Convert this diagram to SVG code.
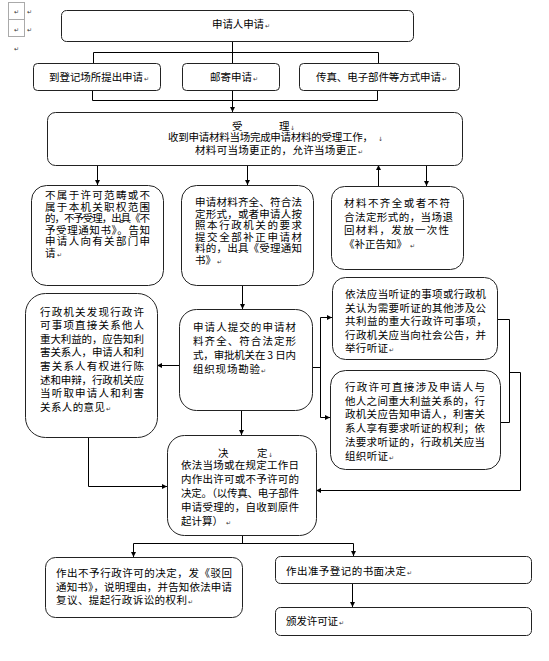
<svg xmlns="http://www.w3.org/2000/svg" width="549" height="661" viewBox="0 0 549 661">
<style>
.b{fill:#fff;stroke:#222;stroke-width:1}
.t{font-family:"Noto Sans CJK SC","Noto Sans CJK JP",sans-serif;font-size:10.5px;fill:#000}
.pm{font-family:"DejaVu Sans",sans-serif;font-size:6px;fill:#333}
.c{fill:none;stroke:#000;stroke-width:1}
.g{fill:none;stroke:#aaa;stroke-width:1}
</style>
<defs>
<marker id="a" viewBox="0 0 6 6" refX="6" refY="3" markerWidth="6" markerHeight="5" orient="auto" markerUnits="userSpaceOnUse"><path d="M0,0 L6,3 L0,6z" fill="#000"/></marker>
</defs>
<rect width="549" height="661" fill="#fff"/>
<g id="corner">
<rect class="g" x="8.5" y="2.5" width="16" height="17"/>
<rect class="g" x="8.5" y="19.5" width="16" height="17"/>
<text class="pm" x="14" y="14">↵</text><text class="pm" x="27" y="14">↵</text>
<text class="pm" x="14" y="32">↵</text><text class="pm" x="27" y="32">↵</text>
<text class="pm" x="14" y="51">↵</text>
</g>
<g id="connectors" class="c">
<path d="M232.5,41 V52.5 M93.5,52.5 H378.5 M93.5,52.5 V63 M232.5,52.5 V63 M378.5,52.5 V63"/>
<path d="M92.5,90 V100.5 M232.5,90 V100.5 M377.5,90 V100.5 M92.5,100.5 H377.5"/>
<path d="M232.5,100.5 V112" marker-end="url(#a)"/>
<path d="M97.5,165 V185" marker-end="url(#a)"/>
<path d="M247.5,165 V185" marker-end="url(#a)"/>
<path d="M378.5,186 V165" marker-end="url(#a)"/>
<path d="M426.5,165 V186" marker-end="url(#a)"/>
<path d="M242.5,285 V309" marker-end="url(#a)"/>
<path d="M179,365.5 H157" marker-end="url(#a)"/>
<path d="M312,367.5 H320.5 M320.5,317.5 V417.5"/>
<path d="M320.5,317.5 H332" marker-end="url(#a)"/>
<path d="M320.5,417.5 H330" marker-end="url(#a)"/>
<path d="M497,319.5 H509.5 V422.5 H500 M509.5,372.5 H520.5 V490.5"/>
<path d="M520.5,490.5 H316" marker-end="url(#a)"/>
<path d="M88.5,437 V486.5"/>
<path d="M88.5,486.5 H167" marker-end="url(#a)"/>
<path d="M241.5,410 V435" marker-end="url(#a)"/>
<path d="M242.5,535 V543.5 M133.5,543.5 H353.5"/>
<path d="M133.5,543.5 V557" marker-end="url(#a)"/>
<path d="M353.5,543.5 V556" marker-end="url(#a)"/>
<path d="M352.5,583 V607" marker-end="url(#a)"/>
</g>
<g id="n-apply">
<rect class="b" x="61.5" y="10.5" width="352" height="31" rx="5"/>
<text class="t" x="212" y="28" textLength="52" lengthAdjust="spacing">申请人申请</text><text class="pm" x="265" y="28">↵</text>
</g>
<g id="n-onsite">
<rect class="b" x="33.5" y="63.5" width="127" height="27" rx="4"/>
<text class="t" x="49" y="81" textLength="94" lengthAdjust="spacing">到登记场所提出申请</text><text class="pm" x="144" y="81">↵</text>
</g>
<g id="n-mail">
<rect class="b" x="182.5" y="63.5" width="97" height="27" rx="4"/>
<text class="t" x="210" y="81" textLength="42" lengthAdjust="spacing">邮寄申请</text><text class="pm" x="253" y="81">↵</text>
</g>
<g id="n-fax">
<rect class="b" x="299.5" y="63.5" width="160" height="27" rx="4"/>
<text class="t" x="316" y="81" textLength="125" lengthAdjust="spacing">传真、电子部件等方式申请</text><text class="pm" x="442" y="81">↵</text>
</g>
<g id="n-accept">
<rect class="b" x="47.5" y="112.5" width="415" height="53" rx="8"/>
<text class="t" x="232" y="130">受</text><text class="t" x="279" y="130">理</text><text class="pm" x="290" y="130">↓</text>
<text class="t" x="168" y="141" textLength="205" lengthAdjust="spacing">收到申请材料当场完成申请材料的受理工作，</text><text class="pm" x="378" y="141">↓</text>
<text class="t" x="195" y="154" textLength="162" lengthAdjust="spacing">材料可当场更正的，允许当场更正</text><text class="pm" x="358" y="154">↵</text>
</g>
<g id="n-reject">
<rect class="b" x="31.5" y="185.5" width="132" height="100" rx="15"/>
<text class="t" x="45" y="199" textLength="105" lengthAdjust="spacing">不属于许可范畴或不</text>
<text class="t" x="45" y="210.5" textLength="105" lengthAdjust="spacing">属于本机关职权范围</text>
<text class="t" x="45" y="222" textLength="105" lengthAdjust="spacing">的，不予受理，出具《不</text>
<text class="t" x="45" y="233.5" textLength="105" lengthAdjust="spacing">予受理通知书》。告知</text>
<text class="t" x="45" y="245" textLength="105" lengthAdjust="spacing">申请人向有关部门申</text>
<text class="t" x="45" y="256.5">请</text><text class="pm" x="57" y="256.5">↵</text>
</g>
<g id="n-complete">
<rect class="b" x="181.5" y="185.5" width="132" height="100" rx="15"/>
<text class="t" x="195" y="206" textLength="107" lengthAdjust="spacing">申请材料齐全、符合法</text>
<text class="t" x="195" y="217.5" textLength="107" lengthAdjust="spacing">定形式，或者申请人按</text>
<text class="t" x="195" y="229" textLength="107" lengthAdjust="spacing">照本行政机关的要求</text>
<text class="t" x="195" y="240.5" textLength="107" lengthAdjust="spacing">提交全部补正申请材</text>
<text class="t" x="195" y="252" textLength="107" lengthAdjust="spacing">料的，出具《受理通知</text>
<text class="t" x="195" y="263.5">书》</text><text class="pm" x="217" y="263.5">↵</text>
</g>
<g id="n-incomplete">
<rect class="b" x="331.5" y="186.5" width="132" height="83" rx="13"/>
<text class="t" x="344" y="207" textLength="106" lengthAdjust="spacing">材料不齐全或者不符</text>
<text class="t" x="344" y="220.5" textLength="109" lengthAdjust="spacing">合法定形式的，当场退</text>
<text class="t" x="344" y="234" textLength="105" lengthAdjust="spacing">回材料，发放一次性</text>
<text class="t" x="344" y="247.5" textLength="63" lengthAdjust="spacing">《补正告知》</text><text class="pm" x="410" y="247.5">↵</text>
</g>
<g id="n-interest">
<rect class="b" x="25.5" y="293.5" width="132" height="144" rx="20"/>
<text class="t" x="40" y="315.5" textLength="104" lengthAdjust="spacing">行政机关发现行政许</text>
<text class="t" x="40" y="329.1" textLength="104" lengthAdjust="spacing">可事项直接关系他人</text>
<text class="t" x="40" y="342.7" textLength="104" lengthAdjust="spacing">重大利益的，应告知利</text>
<text class="t" x="40" y="356.3" textLength="104" lengthAdjust="spacing">害关系人，申请人和利</text>
<text class="t" x="40" y="369.9" textLength="104" lengthAdjust="spacing">害关系人有权进行陈</text>
<text class="t" x="40" y="383.5" textLength="104" lengthAdjust="spacing">述和申辩，行政机关应</text>
<text class="t" x="40" y="397.1" textLength="104" lengthAdjust="spacing">当听取申请人和利害</text>
<text class="t" x="40" y="410.7" textLength="65" lengthAdjust="spacing">关系人的意见</text><text class="pm" x="106" y="410.7">↵</text>
</g>
<g id="n-inspect">
<rect class="b" x="179.5" y="309.5" width="133" height="101" rx="17"/>
<text class="t" x="193" y="331" textLength="103" lengthAdjust="spacing">申请人提交的申请材</text>
<text class="t" x="193" y="345" textLength="103" lengthAdjust="spacing">料齐全、符合法定形</text>
<text class="t" x="193" y="359" textLength="103" lengthAdjust="spacing">式，审批机关在 3 日内</text>
<text class="t" x="193" y="373" textLength="67" lengthAdjust="spacing">组织现场勘验</text><text class="pm" x="261" y="373">↵</text>
</g>
<g id="n-hearing1">
<rect class="b" x="332.5" y="277.5" width="165" height="82" rx="13"/>
<text class="t" x="345" y="298" textLength="141" lengthAdjust="spacing">依法应当听证的事项或行政机</text>
<text class="t" x="345" y="311.5" textLength="141" lengthAdjust="spacing">关认为需要听证的其他涉及公</text>
<text class="t" x="345" y="325" textLength="142" lengthAdjust="spacing">共利益的重大行政许可事项，</text>
<text class="t" x="345" y="338.5" textLength="141" lengthAdjust="spacing">行政机关应当向社会公告，并</text>
<text class="t" x="345" y="352" textLength="43" lengthAdjust="spacing">举行听证</text><text class="pm" x="389" y="352">↵</text>
</g>
<g id="n-hearing2">
<rect class="b" x="330.5" y="370.5" width="170" height="99" rx="15"/>
<text class="t" x="345" y="391" textLength="140" lengthAdjust="spacing">行政许可直接涉及申请人与</text>
<text class="t" x="345" y="404.7" textLength="140" lengthAdjust="spacing">他人之间重大利益关系的，行</text>
<text class="t" x="345" y="418.4" textLength="140" lengthAdjust="spacing">政机关应告知申请人，利害关</text>
<text class="t" x="345" y="432.1" textLength="140" lengthAdjust="spacing">系人享有要求听证的权利；依</text>
<text class="t" x="345" y="445.8" textLength="140" lengthAdjust="spacing">法要求听证的，行政机关应当</text>
<text class="t" x="345" y="459.5" textLength="43" lengthAdjust="spacing">组织听证</text><text class="pm" x="389" y="459.5">↵</text>
</g>
<g id="n-decide">
<rect class="b" x="167.5" y="435.5" width="149" height="100" rx="17"/>
<text class="t" x="218" y="457">决</text><text class="t" x="257" y="457">定</text><text class="pm" x="268" y="457">↓</text>
<text class="t" x="181" y="468.5" textLength="118" lengthAdjust="spacing">依法当场或在规定工作日</text>
<text class="t" x="181" y="482.5" textLength="118" lengthAdjust="spacing">内作出许可或不予许可的</text>
<text class="t" x="181" y="496.5" textLength="118" lengthAdjust="spacing">决定。（以传真、电子部件</text>
<text class="t" x="181" y="510.5" textLength="118" lengthAdjust="spacing">申请受理的，自收到原件</text>
<text class="t" x="181" y="524.5" textLength="42" lengthAdjust="spacing">起计算）</text><text class="pm" x="226" y="524.5">↵</text>
</g>
<g id="n-deny">
<rect class="b" x="45.5" y="557.5" width="197" height="60" rx="10"/>
<text class="t" x="56" y="577" textLength="176" lengthAdjust="spacing">作出不予行政许可的决定，发《驳回</text>
<text class="t" x="56" y="590.5" textLength="176" lengthAdjust="spacing">通知书》，说明理由，并告知依法申请</text>
<text class="t" x="56" y="604" textLength="131" lengthAdjust="spacing">复议、提起行政诉讼的权利</text><text class="pm" x="188" y="604">↵</text>
</g>
<g id="n-grant">
<rect class="b" x="275.5" y="556.5" width="256" height="27" rx="5"/>
<text class="t" x="286" y="574.5" textLength="120" lengthAdjust="spacing">作出准予登记的书面决定</text><text class="pm" x="407" y="574.5">↵</text>
</g>
<g id="n-license">
<rect class="b" x="275.5" y="607.5" width="256" height="28" rx="5"/>
<text class="t" x="286" y="625" textLength="52" lengthAdjust="spacing">颁发许可证</text><text class="pm" x="339" y="625">↵</text>
</g>
</svg>
